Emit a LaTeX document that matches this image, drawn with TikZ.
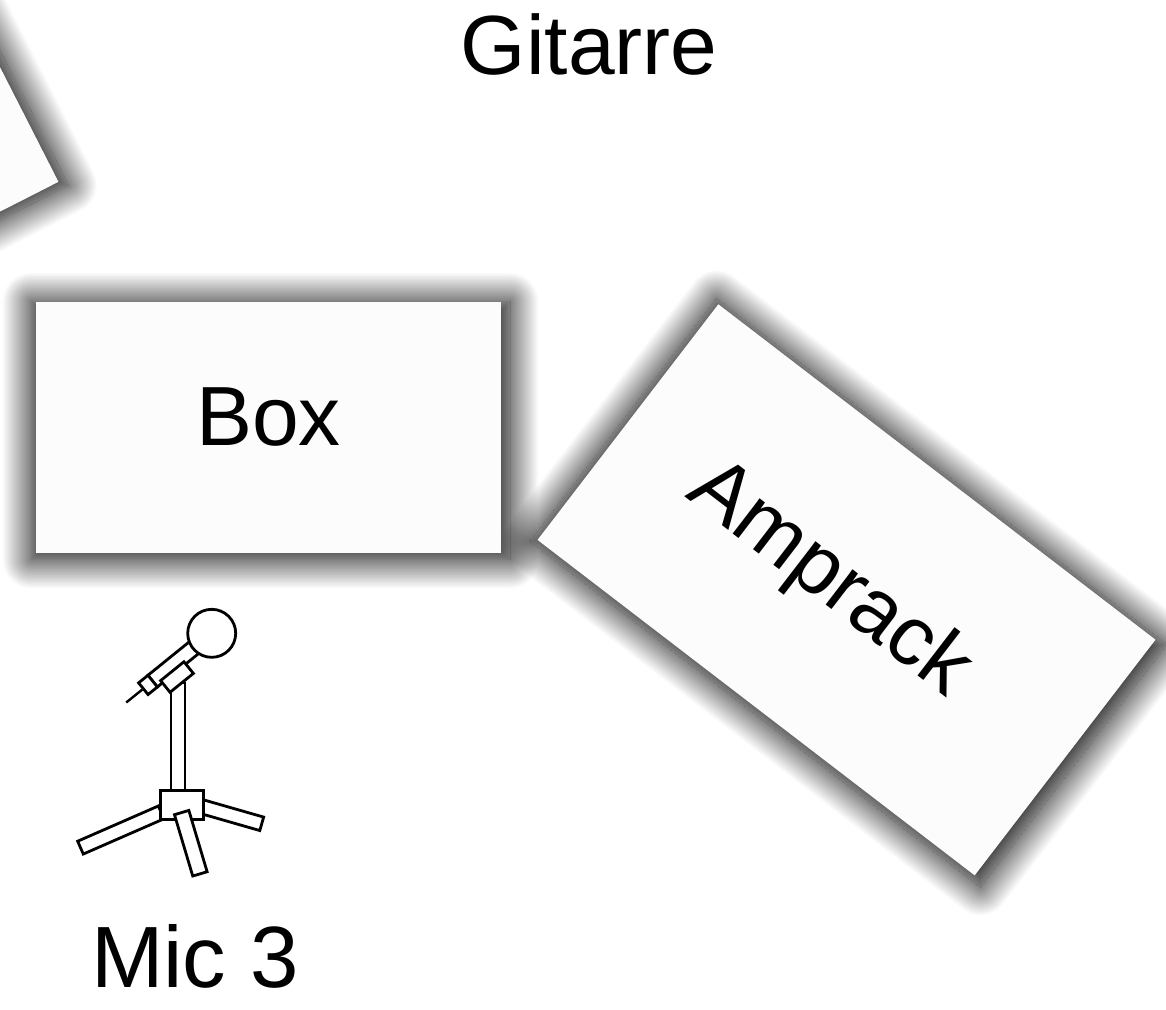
\documentclass[tikz,border=0pt]{standalone}
\usepackage{fontspec}
\setmainfont{Liberation Sans}
\usetikzlibrary{shadows.blur}
\definecolor{boxfill}{RGB}{252,252,252}
\newcommand{\stagefont}{\fontsize{42}{50}\selectfont}
\tikzset{
  stagebox/.style = {rectangle, fill=boxfill, inner sep=0pt, font=\stagefont,
    blur shadow={shadow xshift=1pt, shadow yshift=-1.5pt, shadow scale=1.03,
      shadow blur radius=14pt, shadow blur steps=40, shadow opacity=100}},% stage element with shadow
  lbl/.style = {inner sep=0pt, font=\stagefont, anchor=base},% plain label
  micline/.style = {draw=black, fill=white, line width=1.4pt},
  micpart/.style = {micline, rectangle, inner sep=0pt}% piece of the mic stand
}

\begin{document}
\begin{tikzpicture}[x=0.5pt, y=-0.5pt]
\useasboundingbox (0,0) rectangle (1166,1009);
\clip (0,0) rectangle (1166,1009);
% stage elements
\node [stagebox, minimum width=232.5pt, minimum height=125.5pt, rotate=27,
  anchor=south east] (corner) at (59,182) {};
\node [stagebox, minimum width=232.5pt, minimum height=125.5pt,
  text depth=11pt] (box) at (268.5,427.5) {Box};
\node [stagebox, minimum width=275.5pt, minimum height=148.5pt, rotate=-37.5,
  label={[rotate=-37.5, font=\stagefont, xshift=-10pt, yshift=-1.5pt]center:Amprack}]
  (amprack) at (846.5,589.8) {};
\node [lbl] (gitarre) at (589,74) {Gitarre};
% mic stand
\node [micpart, minimum width=44pt, minimum height=7pt, rotate=23.6] (legl) at (120.8,830) {};
\node [micpart, minimum width=33pt, minimum height=7pt, rotate=-16] (legr) at (230,814.7) {};
\node [micpart, minimum width=7pt, minimum height=54pt] (pole) at (178,737) {};
\node [micpart, minimum width=21.5pt, minimum height=14.5pt] (block) at (181.7,805.3) {};
\node [micpart, minimum width=32pt, minimum height=7.5pt, rotate=-73.4] (legm) at (190.8,843.2) {};
\coordinate (cable) at (126.2,702.5);
\node [micpart, minimum width=28pt, minimum height=7.5pt, rotate=39] (handle) at (174.4,663.5) {};
\node [micpart, minimum width=6pt, minimum height=7.5pt, rotate=39] (butt) at (148,684.9) {};
\draw [micline, line width=1.2pt] (butt.west) -- (cable);
\node [micpart, minimum width=15pt, minimum height=7.5pt, rotate=39] (holder) at (177,677) {};
\node [micpart, circle, minimum size=24pt] (head) at (211.7,633.3) {};
\node [lbl, font=\fontsize{43.5}{50}\selectfont] (mic3) at (195,987) {Mic 3};
\end{tikzpicture}
\end{document}
